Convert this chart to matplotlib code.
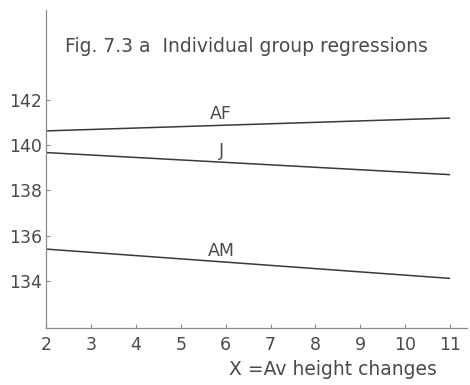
import numpy as np
import matplotlib
matplotlib.use("Agg")
import matplotlib.pyplot as plt
from matplotlib import font_manager

# regression end points (x = av height change)
x_ends = [2, 11]
af_vals = [140.64, 141.21]
j_vals = [139.68, 138.70]
am_vals = [135.40, 134.10]
group_names = ["AF", "J", "AM"]

x_ticks = list(range(2, 12))
y_ticks = [134, 136, 138, 140, 142]

title_text = "Fig. 7.3 a  Individual group regressions"
xlabel_text = "X =Av height changes"

ink = "#3a3a3a"
axis_col = "#8a8a8a"
text_col = "#4a4a4a"

# the original lettering is a narrow stencil face; use a condensed family if one is around
installed = {f.name for f in font_manager.fontManager.ttflist}
narrow = None
for cand in ("DejaVu Sans Condensed", "Liberation Sans Narrow"):
    if cand in installed:
        narrow = cand
        break
if narrow:
    plt.rcParams["font.family"] = [narrow, "DejaVu Sans"]
    scale = 1.08
else:
    plt.rcParams["font.family"] = ["DejaVu Sans"]
    scale = 1.0

fig = plt.figure(figsize=(4.70, 3.85), dpi=100, facecolor="white")
ax = fig.add_axes([0.098, 0.148, 0.896, 0.826])

for vals in (af_vals, j_vals, am_vals):
    ax.plot(x_ends, vals, color=ink, linewidth=1.1, solid_capstyle="butt")

# group labels sit just above their lines around x ~ 5.9
label_x = 5.9
for name, vals in zip(group_names, (af_vals, j_vals, am_vals)):
    y_on_line = np.interp(label_x, x_ends, vals)
    ax.text(label_x, y_on_line + 0.1, name, ha="center", va="bottom",
            fontsize=12.5 * scale, color=text_col)

ax.set_xlim(2, 11.38)
ax.set_ylim(131.9, 146.0)

ax.set_xticks(x_ticks)
ax.set_yticks(y_ticks)
ax.tick_params(axis="both", direction="in", length=3, width=0.8, color=axis_col,
               labelsize=12.5 * scale, labelcolor=text_col)
ax.tick_params(axis="x", pad=6)
ax.tick_params(axis="y", pad=3)

for side in ("top", "right"):
    ax.spines[side].set_visible(False)
for side in ("left", "bottom"):
    ax.spines[side].set_color(axis_col)
    ax.spines[side].set_linewidth(0.9)
    ax.spines[side].set_linestyle((0, (6, 1)))

ax.text(0.045, 0.885, title_text, transform=ax.transAxes, ha="left", va="center",
        fontsize=13.5 * scale, color=text_col)
fig.text(0.93, 0.04, xlabel_text, ha="right", va="center", fontsize=13.5 * scale,
         color=text_col)

fig.savefig("out.png", dpi=100, facecolor="white")
